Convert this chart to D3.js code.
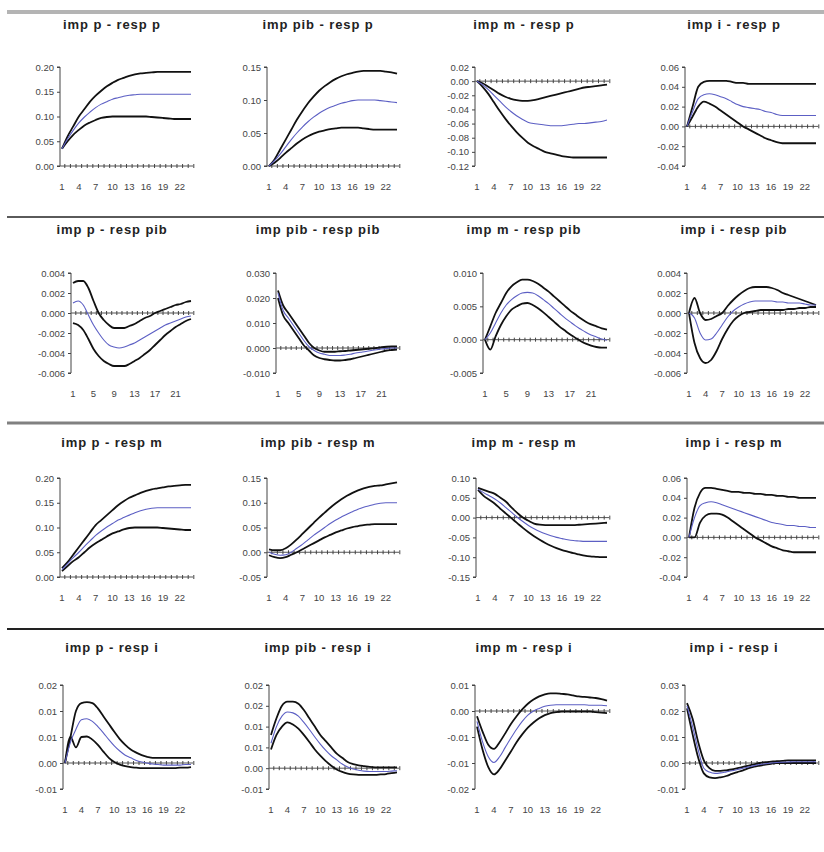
<!DOCTYPE html>
<html>
<head>
<meta charset="utf-8">
<script src="https://cdn.jsdelivr.net/npm/d3@7"></script>
<style>
  body { margin: 0; background: #fff; }
  svg { display: block; }
</style>
</head>
<body>
<div id="chart"></div>
<script>
var svgWidth = 824;
var svgHeight = 852;

var periods = d3.range(1, 25);
var xLabelsBy3 = [1, 4, 7, 10, 13, 16, 19, 22];
var xLabelsBy4 = [1, 5, 9, 13, 17, 21];

var titles = [
  "imp p - resp p", "imp pib - resp p", "imp m - resp p", "imp i - resp p",
  "imp p - resp pib", "imp pib - resp pib", "imp m - resp pib", "imp i - resp pib",
  "imp p - resp m", "imp pib - resp m", "imp m - resp m", "imp i - resp m",
  "imp p - resp i", "imp pib - resp i", "imp m - resp i", "imp i - resp i"
];

// row 1 : response of p
var p_p_hi  = [0.035,0.06,0.08,0.10,0.115,0.13,0.142,0.152,0.161,0.168,0.174,0.178,0.182,0.185,0.187,0.188,0.189,0.19,0.19,0.19,0.19,0.19,0.19,0.19];
var p_p_mid = [0.035,0.055,0.072,0.087,0.099,0.109,0.118,0.125,0.13,0.135,0.138,0.141,0.143,0.144,0.145,0.145,0.145,0.145,0.145,0.145,0.145,0.145,0.145,0.145];
var p_p_lo  = [0.035,0.05,0.063,0.073,0.082,0.088,0.093,0.097,0.099,0.1,0.1,0.1,0.1,0.1,0.1,0.1,0.099,0.098,0.097,0.096,0.095,0.095,0.095,0.095];
var p_p_ticks = [0, 0.05, 0.10, 0.15, 0.20];
var p_p_labels = ["0.00","0.05","0.10","0.15","0.20"];

var pib_p_hi  = [0,0.01,0.025,0.04,0.055,0.07,0.083,0.095,0.105,0.114,0.121,0.127,0.132,0.136,0.139,0.141,0.143,0.144,0.144,0.144,0.144,0.143,0.142,0.140];
var pib_p_mid = [0,0.008,0.018,0.029,0.04,0.05,0.059,0.067,0.074,0.08,0.085,0.089,0.092,0.095,0.097,0.099,0.1,0.1,0.1,0.1,0.099,0.098,0.097,0.096];
var pib_p_lo  = [0,0.005,0.012,0.02,0.027,0.034,0.04,0.045,0.049,0.052,0.054,0.056,0.057,0.058,0.058,0.058,0.058,0.057,0.056,0.055,0.055,0.055,0.055,0.055];
var pib_p_ticks = [0, 0.05, 0.10, 0.15];
var pib_p_labels = ["0.00","0.05","0.10","0.15"];

var m_p_hi  = [0,-0.003,-0.008,-0.013,-0.018,-0.022,-0.025,-0.027,-0.028,-0.028,-0.027,-0.025,-0.023,-0.021,-0.019,-0.017,-0.015,-0.013,-0.011,-0.009,-0.008,-0.007,-0.006,-0.005];
var m_p_mid = [0,-0.005,-0.012,-0.02,-0.028,-0.036,-0.043,-0.049,-0.054,-0.058,-0.06,-0.061,-0.062,-0.063,-0.063,-0.063,-0.062,-0.061,-0.06,-0.06,-0.059,-0.058,-0.057,-0.055];
var m_p_lo  = [0,-0.008,-0.018,-0.03,-0.042,-0.053,-0.063,-0.072,-0.08,-0.087,-0.092,-0.096,-0.1,-0.102,-0.104,-0.106,-0.107,-0.108,-0.108,-0.108,-0.108,-0.108,-0.108,-0.108];
var m_p_ticks = [-0.12,-0.10,-0.08,-0.06,-0.04,-0.02,0,0.02];
var m_p_labels = ["-0.12","-0.10","-0.08","-0.06","-0.04","-0.02","0.00","0.02"];

var i_p_hi  = [0,0.02,0.04,0.045,0.046,0.046,0.046,0.046,0.045,0.044,0.044,0.043,0.043,0.043,0.043,0.043,0.043,0.043,0.043,0.043,0.043,0.043,0.043,0.043];
var i_p_mid = [0,0.015,0.028,0.032,0.033,0.032,0.03,0.028,0.025,0.022,0.02,0.019,0.018,0.017,0.015,0.014,0.012,0.011,0.011,0.011,0.011,0.011,0.011,0.011];
var i_p_lo  = [0,0.01,0.02,0.025,0.023,0.02,0.016,0.012,0.008,0.004,0.0,-0.003,-0.006,-0.009,-0.012,-0.014,-0.016,-0.017,-0.017,-0.017,-0.017,-0.017,-0.017,-0.017];
var i_p_ticks = [-0.04,-0.02,0,0.02,0.04,0.06];
var i_p_labels = ["-0.04","-0.02","0.00","0.02","0.04","0.06"];

// row 2 : response of pib
var p_pib_hi  = [0.003,0.0032,0.0032,0.0025,0.0012,0.0,-0.0007,-0.0012,-0.0015,-0.0015,-0.0015,-0.0013,-0.0011,-0.0008,-0.0005,-0.0003,0.0,0.0002,0.0004,0.0006,0.0008,0.0009,0.0011,0.0012];
var p_pib_mid = [0.001,0.0012,0.0008,-0.0002,-0.0012,-0.002,-0.0027,-0.0032,-0.0034,-0.0035,-0.0034,-0.0032,-0.003,-0.0027,-0.0024,-0.0021,-0.0018,-0.0015,-0.0012,-0.001,-0.0008,-0.0006,-0.0004,-0.0003];
var p_pib_lo  = [-0.001,-0.0012,-0.0017,-0.0026,-0.0036,-0.0043,-0.0048,-0.0051,-0.0053,-0.0053,-0.0053,-0.0051,-0.0048,-0.0045,-0.0041,-0.0037,-0.0032,-0.0027,-0.0022,-0.0018,-0.0014,-0.0011,-0.0008,-0.0006];
var p_pib_ticks = [-0.006,-0.004,-0.002,0,0.002,0.004];
var p_pib_labels = ["-0.006","-0.004","-0.002","0.000","0.002","0.004"];

var pib_pib_hi  = [0.023,0.017,0.014,0.011,0.008,0.005,0.002,0.0,-0.001,-0.0015,-0.0015,-0.0015,-0.0013,-0.0012,-0.001,-0.0008,-0.0006,-0.0004,-0.0002,0.0,0.0003,0.0005,0.0006,0.0006];
var pib_pib_mid = [0.022,0.015,0.012,0.009,0.006,0.003,0.0005,-0.001,-0.002,-0.0025,-0.003,-0.003,-0.003,-0.0028,-0.0025,-0.002,-0.0017,-0.0014,-0.001,-0.0007,-0.0004,-0.0002,0.0,0.0];
var pib_pib_lo  = [0.02,0.013,0.01,0.007,0.004,0.001,-0.001,-0.003,-0.004,-0.0045,-0.0048,-0.005,-0.005,-0.0048,-0.0045,-0.004,-0.0035,-0.003,-0.0025,-0.002,-0.0015,-0.001,-0.0008,-0.0006];
var pib_pib_ticks = [-0.010,0,0.010,0.020,0.030];
var pib_pib_labels = ["-0.010","0.000","0.010","0.020","0.030"];

var m_pib_hi  = [0,0.002,0.004,0.0055,0.007,0.008,0.0086,0.009,0.009,0.0088,0.0084,0.0078,0.0072,0.0065,0.0058,0.0051,0.0044,0.0038,0.0032,0.0027,0.0023,0.002,0.0017,0.0015];
var m_pib_mid = [0,0.001,0.0025,0.004,0.0052,0.006,0.0066,0.007,0.0071,0.007,0.0066,0.006,0.0054,0.0047,0.004,0.0033,0.0027,0.0021,0.0016,0.0011,0.0007,0.0004,0.0001,-0.0001];
var m_pib_lo  = [0,-0.0015,0.0005,0.0022,0.0035,0.0045,0.005,0.0054,0.0055,0.0052,0.0047,0.0041,0.0034,0.0027,0.002,0.0014,0.0008,0.0003,-0.0002,-0.0006,-0.0009,-0.0011,-0.0012,-0.0012];
var m_pib_ticks = [-0.005,0,0.005,0.010];
var m_pib_labels = ["-0.005","0.000","0.005","0.010"];

var i_pib_hi  = [0,0.0015,0.0,-0.0007,-0.0006,-0.0003,0.0,0.0007,0.0013,0.0018,0.0022,0.0025,0.0026,0.0026,0.0026,0.0025,0.0023,0.002,0.0018,0.0016,0.0014,0.0012,0.001,0.0008];
var i_pib_mid = [0,-0.0005,-0.002,-0.0027,-0.0026,-0.002,-0.0012,-0.0004,0.0002,0.0006,0.0009,0.0011,0.0012,0.0012,0.0012,0.0012,0.0011,0.0011,0.001,0.001,0.001,0.0009,0.0008,0.0008];
var i_pib_lo  = [0,-0.003,-0.0045,-0.005,-0.0047,-0.0038,-0.0026,-0.0016,-0.0008,-0.0003,0.0,0.0001,0.0002,0.0003,0.0003,0.0003,0.0003,0.0003,0.0004,0.0004,0.0005,0.0005,0.0006,0.0006];
var i_pib_ticks = [-0.006,-0.004,-0.002,0,0.002,0.004];
var i_pib_labels = ["-0.006","-0.004","-0.002","0.000","0.002","0.004"];

// row 3 : response of m
var p_m_hi  = [0.018,0.03,0.045,0.06,0.075,0.09,0.105,0.115,0.125,0.135,0.145,0.153,0.16,0.165,0.17,0.174,0.177,0.179,0.181,0.183,0.184,0.185,0.186,0.186];
var p_m_mid = [0.015,0.027,0.039,0.05,0.062,0.073,0.084,0.093,0.101,0.108,0.115,0.12,0.125,0.13,0.134,0.137,0.139,0.14,0.14,0.14,0.14,0.14,0.14,0.14];
var p_m_lo  = [0.012,0.022,0.032,0.04,0.05,0.06,0.068,0.075,0.082,0.088,0.092,0.096,0.099,0.1,0.1,0.1,0.1,0.1,0.099,0.098,0.097,0.096,0.095,0.095];
var p_m_ticks = [0, 0.05, 0.10, 0.15, 0.20];
var p_m_labels = ["0.00","0.05","0.10","0.15","0.20"];

var pib_m_hi  = [0.006,0.004,0.004,0.008,0.016,0.026,0.037,0.048,0.059,0.07,0.08,0.09,0.099,0.107,0.114,0.12,0.125,0.129,0.132,0.134,0.135,0.137,0.139,0.141];
var pib_m_mid = [0.0,-0.004,-0.006,-0.005,0.0,0.008,0.016,0.025,0.034,0.042,0.05,0.058,0.065,0.071,0.077,0.082,0.087,0.091,0.094,0.097,0.099,0.1,0.1,0.1];
var pib_m_lo  = [-0.006,-0.01,-0.012,-0.01,-0.005,0.0,0.006,0.012,0.018,0.024,0.03,0.035,0.04,0.044,0.048,0.051,0.053,0.055,0.056,0.057,0.057,0.057,0.057,0.057];
var pib_m_ticks = [-0.05, 0, 0.05, 0.10, 0.15];
var pib_m_labels = ["-0.05","0.00","0.05","0.10","0.15"];

var m_m_hi  = [0.075,0.07,0.065,0.06,0.05,0.04,0.025,0.012,0.0,-0.008,-0.015,-0.018,-0.019,-0.019,-0.019,-0.019,-0.019,-0.019,-0.018,-0.017,-0.016,-0.015,-0.014,-0.013];
var m_m_mid = [0.072,0.063,0.055,0.047,0.037,0.025,0.013,0.001,-0.01,-0.02,-0.028,-0.035,-0.041,-0.046,-0.05,-0.053,-0.056,-0.058,-0.059,-0.06,-0.06,-0.06,-0.06,-0.06];
var m_m_lo  = [0.07,0.055,0.045,0.035,0.022,0.01,-0.002,-0.014,-0.026,-0.037,-0.047,-0.056,-0.064,-0.071,-0.077,-0.082,-0.086,-0.09,-0.093,-0.096,-0.098,-0.099,-0.1,-0.1];
var m_m_ticks = [-0.15,-0.10,-0.05,0,0.05,0.10];
var m_m_labels = ["-0.15","-0.10","-0.05","0.00","0.05","0.10"];

var i_m_hi  = [0,0.03,0.045,0.05,0.05,0.049,0.048,0.047,0.046,0.046,0.045,0.045,0.044,0.044,0.043,0.043,0.042,0.042,0.041,0.041,0.04,0.04,0.04,0.04];
var i_m_mid = [0,0.02,0.032,0.035,0.036,0.035,0.033,0.031,0.029,0.027,0.025,0.023,0.021,0.019,0.017,0.015,0.014,0.013,0.012,0.012,0.011,0.011,0.01,0.01];
var i_m_lo  = [0,0.0,0.015,0.022,0.024,0.024,0.023,0.02,0.016,0.012,0.008,0.004,0.0,-0.003,-0.006,-0.009,-0.011,-0.013,-0.014,-0.015,-0.015,-0.015,-0.015,-0.015];
var i_m_ticks = [-0.04,-0.02,0,0.02,0.04,0.06];
var i_m_labels = ["-0.04","-0.02","0.00","0.02","0.04","0.06"];

// row 4 : response of i
var p_i_hi  = [0.0,0.005,0.01,0.0115,0.0117,0.0115,0.0105,0.009,0.0075,0.006,0.0046,0.0035,0.0026,0.002,0.0015,0.0012,0.001,0.001,0.001,0.001,0.001,0.001,0.001,0.001];
var p_i_mid = [0.0,0.004,0.0065,0.0083,0.0085,0.008,0.007,0.0058,0.0045,0.0033,0.0023,0.0015,0.001,0.0005,0.0002,0.0,-0.0002,-0.0003,-0.0004,-0.0004,-0.0004,-0.0004,-0.0003,-0.0003];
var p_i_lo  = [0.0,0.005,0.003,0.005,0.0051,0.0045,0.0035,0.0022,0.001,0.0002,-0.0003,-0.0006,-0.0008,-0.0009,-0.001,-0.001,-0.001,-0.001,-0.001,-0.001,-0.001,-0.0009,-0.0009,-0.0008];
var p_i_ticks = [-0.005, 0, 0.005, 0.01, 0.015];
var p_i_labels = ["-0.01","0.00","0.01","0.01","0.02"];

var pib_i_hi  = [0.008,0.012,0.015,0.016,0.016,0.0155,0.014,0.012,0.01,0.008,0.0065,0.005,0.0035,0.0025,0.0015,0.001,0.0007,0.0005,0.0003,0.0002,0.0002,0.0002,0.0002,0.0002];
var pib_i_mid = [0.006,0.01,0.0125,0.0135,0.0133,0.0125,0.011,0.0093,0.0075,0.0058,0.0043,0.003,0.002,0.001,0.0003,-0.0002,-0.0005,-0.0007,-0.0008,-0.0008,-0.0008,-0.0008,-0.0007,-0.0006];
var pib_i_lo  = [0.0045,0.008,0.01,0.011,0.0105,0.0095,0.008,0.0063,0.0045,0.003,0.0017,0.0006,-0.0003,-0.0009,-0.0013,-0.0015,-0.0016,-0.0016,-0.0016,-0.0016,-0.0015,-0.0014,-0.0012,-0.001];
var pib_i_ticks = [-0.005, 0, 0.005, 0.01, 0.015, 0.02];
var pib_i_labels = ["-0.01","0.00","0.01","0.01","0.02","0.02"];

var m_i_hi  = [-0.001,-0.004,-0.0065,-0.0073,-0.006,-0.0043,-0.0025,-0.001,0.0003,0.0014,0.0022,0.0028,0.0032,0.0034,0.0034,0.0033,0.0032,0.003,0.0028,0.0027,0.0026,0.0025,0.0023,0.002];
var m_i_mid = [-0.002,-0.006,-0.0088,-0.0099,-0.0088,-0.007,-0.0052,-0.0035,-0.002,-0.0008,0.0,0.0005,0.0009,0.0011,0.0012,0.0012,0.0012,0.0012,0.0012,0.0012,0.0011,0.0011,0.0011,0.001];
var m_i_lo  = [-0.003,-0.0075,-0.0108,-0.0122,-0.0112,-0.0095,-0.0078,-0.006,-0.0045,-0.0032,-0.0022,-0.0014,-0.0008,-0.0004,-0.0002,-0.0001,-0.0001,-0.0001,-0.0001,-0.0001,-0.0001,-0.0002,-0.0003,-0.0004];
var m_i_ticks = [-0.015, -0.01, -0.005, 0, 0.005];
var m_i_labels = ["-0.02","-0.01","-0.01","0.00","0.01"];

var i_i_hi  = [0.023,0.017,0.008,0.001,-0.002,-0.003,-0.003,-0.0028,-0.0025,-0.002,-0.0015,-0.001,-0.0005,0.0,0.0003,0.0005,0.0007,0.0008,0.001,0.001,0.001,0.001,0.001,0.001];
var i_i_mid = [0.022,0.014,0.005,-0.002,-0.0035,-0.004,-0.0038,-0.0034,-0.003,-0.0025,-0.002,-0.0015,-0.001,-0.0006,-0.0003,0.0,0.0002,0.0003,0.0004,0.0005,0.0005,0.0005,0.0005,0.0005];
var i_i_lo  = [0.021,0.011,0.002,-0.004,-0.0055,-0.0058,-0.0055,-0.005,-0.0042,-0.0035,-0.0028,-0.002,-0.0014,-0.001,-0.0006,-0.0003,0.0,0.0,0.0,0.0,0.0,0.0,0.0,0.0];
var i_i_ticks = [-0.01, 0, 0.01, 0.02, 0.03];
var i_i_labels = ["-0.01","0.00","0.01","0.02","0.03"];

var panels = [
  [p_p_hi, p_p_mid, p_p_lo, p_p_ticks, p_p_labels, xLabelsBy3],
  [pib_p_hi, pib_p_mid, pib_p_lo, pib_p_ticks, pib_p_labels, xLabelsBy3],
  [m_p_hi, m_p_mid, m_p_lo, m_p_ticks, m_p_labels, xLabelsBy3],
  [i_p_hi, i_p_mid, i_p_lo, i_p_ticks, i_p_labels, xLabelsBy3],
  [p_pib_hi, p_pib_mid, p_pib_lo, p_pib_ticks, p_pib_labels, xLabelsBy4],
  [pib_pib_hi, pib_pib_mid, pib_pib_lo, pib_pib_ticks, pib_pib_labels, xLabelsBy4],
  [m_pib_hi, m_pib_mid, m_pib_lo, m_pib_ticks, m_pib_labels, xLabelsBy4],
  [i_pib_hi, i_pib_mid, i_pib_lo, i_pib_ticks, i_pib_labels, xLabelsBy3],
  [p_m_hi, p_m_mid, p_m_lo, p_m_ticks, p_m_labels, xLabelsBy3],
  [pib_m_hi, pib_m_mid, pib_m_lo, pib_m_ticks, pib_m_labels, xLabelsBy3],
  [m_m_hi, m_m_mid, m_m_lo, m_m_ticks, m_m_labels, xLabelsBy3],
  [i_m_hi, i_m_mid, i_m_lo, i_m_ticks, i_m_labels, xLabelsBy3],
  [p_i_hi, p_i_mid, p_i_lo, p_i_ticks, p_i_labels, xLabelsBy3],
  [pib_i_hi, pib_i_mid, pib_i_lo, pib_i_ticks, pib_i_labels, xLabelsBy3],
  [m_i_hi, m_i_mid, m_i_lo, m_i_ticks, m_i_labels, xLabelsBy3],
  [i_i_hi, i_i_mid, i_i_lo, i_i_ticks, i_i_labels, xLabelsBy3]
];

// layout (pixels)
var axisX = [[60, 267, 475, 685], [71, 276, 483, 687], [60, 267, 476, 687], [63, 269, 475, 685]];
var rightX = [193, 399, 609, 818];
var rowTop = [67, 273, 478, 685];
var rowBottom = [166, 373, 577, 789];
var titleX = [112, 318, 524, 734];
var titleY = [29, 234, 447, 652];
var sepY = [12, 217, 423, 629];
var sepColor = ["#b4b4b4", "#5a5a5a", "#808080", "#222"];
var sepWidth = [4, 2, 3, 2];

var svg = d3.select("#chart")
  .append("svg")
  .attr("width", svgWidth)
  .attr("height", svgHeight)
  .style("font-family", "Arial, 'Liberation Sans', sans-serif");

// horizontal separators between rows
svg.selectAll(".sep")
  .data(sepY)
  .enter()
  .append("line")
  .attr("x1", 7)
  .attr("x2", svgWidth)
  .attr("y1", d => d)
  .attr("y2", d => d)
  .attr("stroke", (d, i) => sepColor[i])
  .attr("stroke-width", (d, i) => sepWidth[i]);

panels.forEach(function(p, k) {
  var row = Math.floor(k / 4), col = k % 4;
  var x0 = axisX[row][col], x1 = rightX[col];
  var ticks = p[3], labels = p[4];

  var xScale = d3.scalePoint()
    .domain(periods)
    .range([x0 + 2, x1 - 2]);

  var yScale = d3.scaleLinear()
    .domain([ticks[0], ticks[ticks.length - 1]])
    .range([rowBottom[row], rowTop[row]]);

  var g = svg.append("g");

  // title
  g.append("text")
    .attr("x", titleX[col])
    .attr("y", titleY[row])
    .attr("text-anchor", "middle")
    .attr("font-size", "13px")
    .attr("font-weight", "bold")
    .attr("letter-spacing", "0.9px")
    .attr("fill", "#222")
    .text(titles[k]);

  // y axis
  var leftAxis = d3.axisLeft(yScale)
    .tickValues(ticks)
    .tickFormat((d, i) => labels[i])
    .tickSize(3)
    .tickPadding(3);

  var ya = g.append("g")
    .attr("transform", `translate(${x0}, 0)`)
    .call(leftAxis);
  ya.select(".domain").attr("stroke", "#444").attr("d", `M-3,${rowTop[row]}H0V${rowBottom[row]}H-3`);
  ya.selectAll(".tick line").attr("stroke", "#444");
  ya.selectAll(".tick text")
    .attr("font-size", "9.5px")
    .attr("font-family", "Arial, 'Liberation Sans', sans-serif")
    .attr("fill", "#444");

  // zero axis with category ticks
  var y0 = yScale(0);
  g.append("line")
    .attr("x1", x0)
    .attr("x2", x1)
    .attr("y1", y0)
    .attr("y2", y0)
    .attr("stroke", "#555")
    .attr("stroke-width", 1);

  g.selectAll(".ztick")
    .data(periods)
    .enter()
    .append("line")
    .attr("x1", d => xScale(d) + 2.8)
    .attr("x2", d => xScale(d) + 2.8)
    .attr("y1", y0 - 2)
    .attr("y2", y0 + 2)
    .attr("stroke", "#444")
    .attr("stroke-width", 1);

  // x labels under the plot
  g.selectAll(".xlab")
    .data(p[5])
    .enter()
    .append("text")
    .attr("x", d => xScale(d))
    .attr("y", rowBottom[row] + 24)
    .attr("text-anchor", "middle")
    .attr("font-size", "9.5px")
    .attr("fill", "#444")
    .text(d => d);

  var line = d3.line()
    .x((d, i) => xScale(periods[i]))
    .y(d => yScale(d))
    .curve(d3.curveMonotoneX);

  // confidence bands (black) and point estimate (blue)
  [p[0], p[2]].forEach(function(series) {
    g.append("path")
      .datum(series)
      .attr("d", line)
      .attr("fill", "none")
      .attr("stroke", "#111")
      .attr("stroke-width", 1.8);
  });

  g.append("path")
    .datum(p[1])
    .attr("d", line)
    .attr("fill", "none")
    .attr("stroke", "#5c5fc4")
    .attr("stroke-width", 1.1);
});
</script>
</body>
</html>
